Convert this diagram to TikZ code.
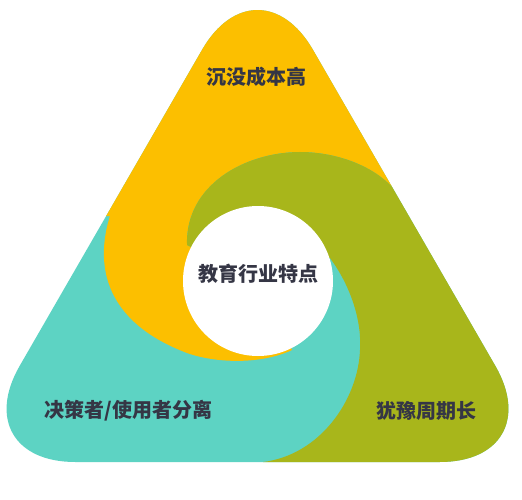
\documentclass[tikz,border=0pt]{standalone}
\usepackage{fontspec}
\setmainfont{Noto Sans CJK SC}
\definecolor{swirlyellow}{HTML}{FCBF00}
\definecolor{swirlolive}{HTML}{A8B61B}
\definecolor{swirlteal}{HTML}{5DD3C3}
\definecolor{labelink}{HTML}{353645}
\tikzset{label text/.style={text=labelink,font=\bfseries\fontsize{20}{24}\selectfont}}
\begin{document}
\begin{tikzpicture}[x=1pt,y=-1pt,line join=round,line cap=round]
	\useasboundingbox (0,0) rectangle (522,500);
	\begin{scope}
		\clip[rounded corners=111pt] (257.5,462) -- (550.8,462) -- (257.5,-46.3) -- (-35.8,462) -- cycle;
		\fill[swirlteal] (0,0) rectangle (522,500);
		% yellow part, top
		\fill[swirlyellow] (258,281) -- (292,350)
			.. controls (260,365) and (215,363) .. (187,353)
			.. controls (100,320) and (96,260) .. (110,216)
			-- (40,216) -- (40,-20) -- (480,-20) -- (480,187) -- (392,187)
			.. controls (375,168) and (340,152) .. (300,152)
			.. controls (245,152) and (185,185) .. (187,245) -- cycle;
		% olive part, right
		\fill[swirlolive] (258,281) -- (330,258)
			.. controls (350,285) and (362,320) .. (360,350)
			.. controls (358,400) and (320,455) .. (263,462)
			-- (263,500) -- (560,500) -- (560,187) -- (392,187)
			.. controls (375,168) and (340,152) .. (300,152)
			.. controls (245,152) and (185,185) .. (187,245) -- cycle;
	\end{scope}
	\node[circle,fill=white,minimum size=150pt,inner sep=0pt] (core) at (258,281) {};
	\node[label text] (coretext) at (258,274) {教育行业特点};
	\node[label text] (costtext) at (256.5,77) {沉没成本高};
	\node[label text] (usertext) at (128.5,411) {决策者/使用者分离};
	\node[label text] (periodtext) at (426,411) {犹豫周期长};
\end{tikzpicture}
\end{document}
